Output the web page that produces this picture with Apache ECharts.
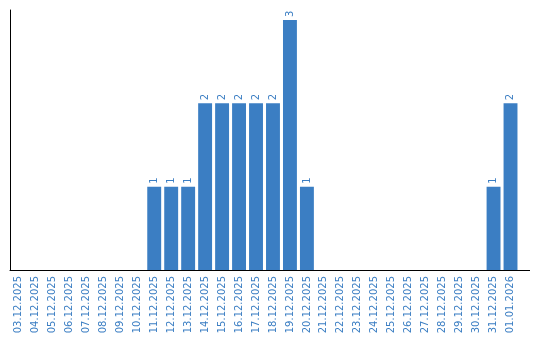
<!DOCTYPE html>
<html><head><meta charset="utf-8">
<script src="https://cdn.jsdelivr.net/npm/echarts@6/dist/echarts.min.js"></script>
<style>html,body{margin:0;padding:0;background:#fff}#c{width:540px;height:340px}</style>
</head><body><div id="c"></div>
<script>
var categories = ["03.12.2025","04.12.2025","05.12.2025","06.12.2025","07.12.2025","08.12.2025","09.12.2025","10.12.2025","11.12.2025","12.12.2025","13.12.2025","14.12.2025","15.12.2025","16.12.2025","17.12.2025","18.12.2025","19.12.2025","20.12.2025","21.12.2025","22.12.2025","23.12.2025","24.12.2025","25.12.2025","26.12.2025","27.12.2025","28.12.2025","29.12.2025","30.12.2025","31.12.2025","01.01.2026"];
var values = [null,null,null,null,null,null,null,null,1,1,1,2,2,2,2,2,3,1,null,null,null,null,null,null,null,null,null,null,1,2];
var blue = '#3b7ec3';
var chart = echarts.init(document.getElementById('c'), null, {renderer:'canvas'});
chart.setOption({
  animation:false,
  grid:{left:10, width:509, top:10, bottom:70},
  graphic:[{type:'line', shape:{x1:519, y1:270.5, x2:530, y2:270.5}, style:{stroke:'#000', lineWidth:1}}],
  xAxis:{type:'category', data:categories,
    axisLine:{show:true, lineStyle:{color:'#000', width:1}},
    axisTick:{show:false},
    axisLabel:{rotate:90, interval:0, color:blue, fontFamily:'DejaVu Sans', fontSize:10, margin:6}},
  yAxis:{type:'value', min:0, max:3.12,
    axisLine:{show:true, lineStyle:{color:'#000', width:1}},
    axisTick:{show:false}, axisLabel:{show:false}, splitLine:{show:false}},
  series:[{type:'bar', data:values, barCategoryGap:'18%',
    itemStyle:{color:blue},
    label:{show:true, position:'top', rotate:90, align:'left', verticalAlign:'middle', distance:3,
      color:blue, fontFamily:'DejaVu Sans', fontSize:10}}]
});
</script></body></html>
